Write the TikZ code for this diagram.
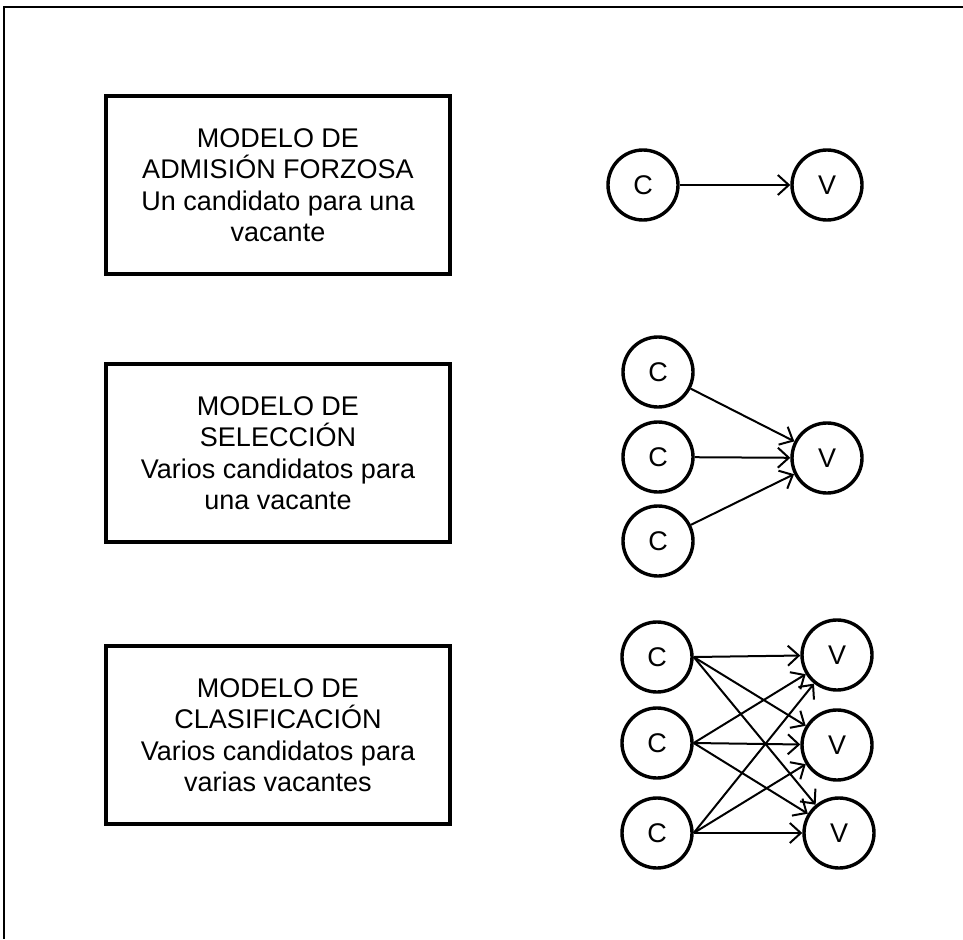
\documentclass[tikz,border=0pt]{standalone}
\usepackage{fontspec}
\setmainfont{Liberation Sans}
\usetikzlibrary{arrows.meta}
\begin{document}
\begin{tikzpicture}[x=1pt, y=-1pt, >={Straight Barb[length=11pt,width=20pt]},
    font=\fontsize{27}{31.5}\selectfont,
    modelo/.style={draw, line width=3.2pt, minimum width=344pt, minimum height=178pt,
      align=center, inner sep=0pt},
    agente/.style={circle, draw, line width=3.4pt, minimum size=70pt, inner sep=0pt},
    flecha/.style={->, line width=2pt}]
  \useasboundingbox (0,0) rectangle (963,939);
  \draw [line width=2pt] (963,7) -- (4,7) -- (4,939);
  % admision forzosa
  \node [modelo] (m1) at (278,185) {MODELO DE\\ADMISIÓN FORZOSA\\Un candidato para una\\vacante};
  \node [agente] (c1) at (643,185) {C};
  \node [agente] (v1) at (827,185) {V};
  \draw [flecha] (c1) -- (v1);
  % seleccion
  \node [modelo] (m2) at (278,453) {MODELO DE\\SELECCIÓN\\Varios candidatos para\\una vacante};
  \node [agente] (sc1) at (658,372) {C};
  \node [agente] (sc2) at (658,457) {C};
  \node [agente] (sc3) at (658,541) {C};
  \node [agente] (sv) at (827,458) {V};
  \foreach \i in {1,2,3}
    \draw [flecha] (sc\i) -- (sv);
  % clasificacion
  \node [modelo] (m3) at (278,735) {MODELO DE\\CLASIFICACIÓN\\Varios candidatos para\\varias vacantes};
  \node [agente] (kc1) at (657,657) {C};
  \node [agente] (kc2) at (657,743) {C};
  \node [agente] (kc3) at (657,833) {C};
  \node [agente] (kv1) at (837,655) {V};
  \node [agente] (kv2) at (837,745) {V};
  \node [agente] (kv3) at (839,833) {V};
  \foreach \i in {1,2,3}
    \foreach \j in {1,2,3}
      \draw [flecha] (kc\i.east) -- (kv\j);
\end{tikzpicture}
\end{document}
